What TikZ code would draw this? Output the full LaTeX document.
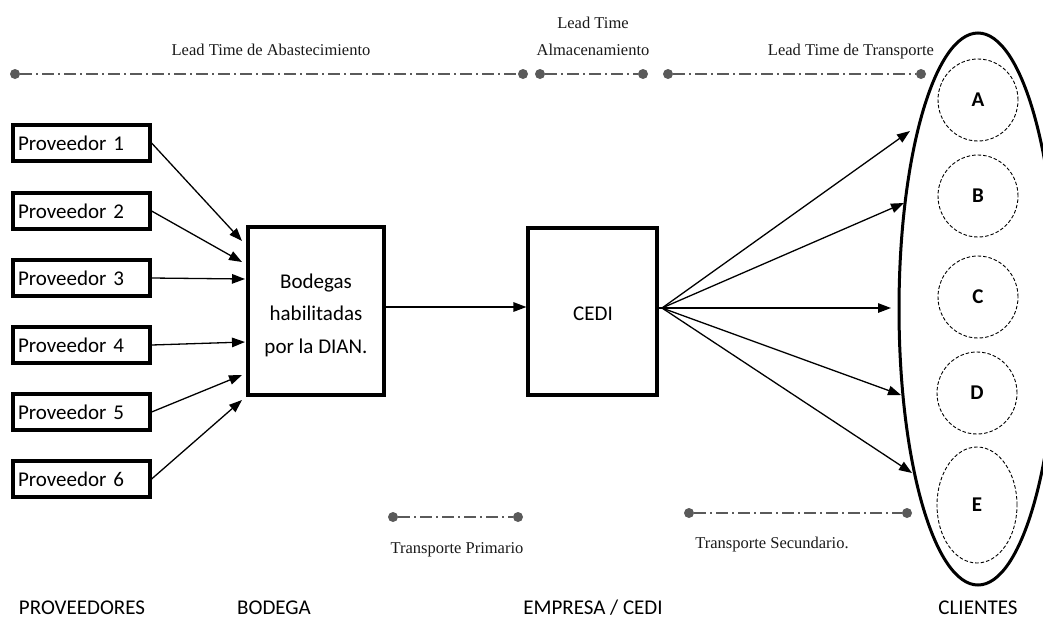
\documentclass[tikz,border=0pt]{standalone}
\usepackage{fontspec}
\setmainfont{Liberation Serif}
\newfontfamily\calib{Carlito}
\usetikzlibrary{arrows.meta,shapes.geometric}
\definecolor{dotgray}{RGB}{90,90,90}
\begin{document}
\begin{tikzpicture}[x=1pt,y=-1pt,
  prov/.style={draw, line width=3.2pt, text width=127pt, inner xsep=5pt, minimum height=36pt, inner ysep=0pt, align=left, font=\calib\fontsize{21}{25}\selectfont},
  bigbox/.style={draw, line width=3.2pt, inner sep=0pt},
  caltext/.style={font=\calib\fontsize{21}{32.5}\selectfont, align=center, inner sep=0pt},
  sertext/.style={font=\fontsize{16.5}{27}\selectfont, align=center, inner sep=0pt, text=black!90},
  conn/.style={-{Triangle[length=13pt,width=9.5pt]}, line width=1.3pt},
  lt/.style={draw=dotgray, line width=1.4pt, dash pattern=on 12pt off 4pt on 2pt off 4pt},
  dotn/.style={circle, fill=dotgray, inner sep=0pt, minimum size=10pt},
  client/.style={ellipse, draw, line width=0.9pt, dash pattern=on 3.5pt off 2pt, minimum width=80pt, minimum height=82pt, inner sep=0pt, font=\calib\bfseries\fontsize{21}{25}\selectfont}
]
\useasboundingbox (0,0) rectangle (1043,619);

% top lead-time lines
\node[dotn] (d1) at (15,74) {};
\node[dotn] (d2) at (523,74) {};
\node[dotn] (d3) at (540,74) {};
\node[dotn] (d4) at (643,74) {};
\node[dotn] (d5) at (668,74) {};
\node[dotn] (d6) at (921,74) {};
\draw[lt] (d1) -- (d2);
\draw[lt] (d3) -- (d4);
\draw[lt] (d5) -- (d6);
\node[sertext, anchor=base] (lt1) at (271,55) {Lead Time de Abastecimiento};
\node[sertext, anchor=base] (lt2a) at (593,28) {Lead Time};
\node[sertext, anchor=base] (lt2b) at (593,55) {Almacenamiento};
\node[sertext, anchor=base] (lt3) at (851,55) {Lead Time de Transporte};

% providers
\node[prov] (p1) at (81.5,143) {Proveedor 1};
\node[prov] (p2) at (81.5,211) {Proveedor 2};
\node[prov] (p3) at (81.5,278) {Proveedor 3};
\node[prov] (p4) at (81.5,345) {Proveedor 4};
\node[prov] (p5) at (81.5,412) {Proveedor 5};
\node[prov] (p6) at (81.5,479) {Proveedor 6};

% bodega and CEDI
\node[bigbox, minimum width=136pt, minimum height=168pt] (bodega) at (316,311) {};
\node[caltext] (bodegatxt) at (316,315) {Bodegas\\habilitadas\\por la DIAN.};
\node[bigbox, minimum width=129pt, minimum height=167pt] (cedi) at (592.5,311.5) {};
\node[caltext] (cedatxt) at (593,314) {CEDI};

% provider arrows
\coordinate (t1) at (242,241);
\coordinate (t2) at (242,262);
\coordinate (t3) at (245,279);
\coordinate (t4) at (245,342);
\coordinate (t5) at (242,375);
\coordinate (t6) at (242,400);
\draw[conn] (p1.east) -- (t1);
\draw[conn] (p2.east) -- (t2);
\draw[conn] (p3.east) -- (t3);
\draw[conn] (p4.east) -- (t4);
\draw[conn] (p5.east) -- (t5);
\draw[conn] (p6.east) -- (t6);

% bodega -> CEDI
\draw[conn] ([yshift=4pt]bodega.east) -- ([yshift=4.5pt]cedi.west);

% clients
\node[ellipse, draw, line width=3pt, minimum width=158pt, minimum height=552pt, inner sep=0pt] (clientes) at (978,309) {};
\node[client] (ca) at (978,100) {A};
\node[client] (cb) at (978,196) {B};
\node[client] (cc) at (978,297) {C};
\node[client] (cd) at (977,393) {D};
\node[client, minimum height=116pt] (ce) at (977,505) {E};

% CEDI -> clients
\coordinate (hub) at (662,308);
\coordinate (eA) at (910,131);
\coordinate (eB) at (904,203);
\coordinate (eC) at (891,308);
\coordinate (eD) at (901,395);
\coordinate (eE) at (912,473);
\draw[conn] (hub) -- (eA);
\draw[conn] (hub) -- (eB);
\draw[conn] (hub) -- (eC);
\draw[conn] (hub) -- (eD);
\draw[conn] (hub) -- (eE);
\draw[line width=1.3pt] (cedi.east |- hub) -- (hub);

% bottom transport lines
\node[dotn] (b1) at (393,517) {};
\node[dotn] (b2) at (518,517) {};
\node[dotn] (b3) at (689,513) {};
\node[dotn] (b4) at (907,513) {};
\draw[lt] (b1) -- (b2);
\draw[lt] (b3) -- (b4);
\node[sertext, anchor=base] (tp) at (457,553) {Transporte Primario};
\node[sertext, anchor=base] (ts) at (772,548) {Transporte Secundario.};

% bottom column labels
\node[caltext, anchor=base] (lp) at (82,614) {PROVEEDORES};
\node[caltext, anchor=base] (lb) at (274,614) {BODEGA};
\node[caltext, anchor=base] (le) at (593,614) {EMPRESA / CEDI};
\node[caltext, anchor=base] (lc) at (978,614) {CLIENTES};
\end{tikzpicture}
\end{document}
